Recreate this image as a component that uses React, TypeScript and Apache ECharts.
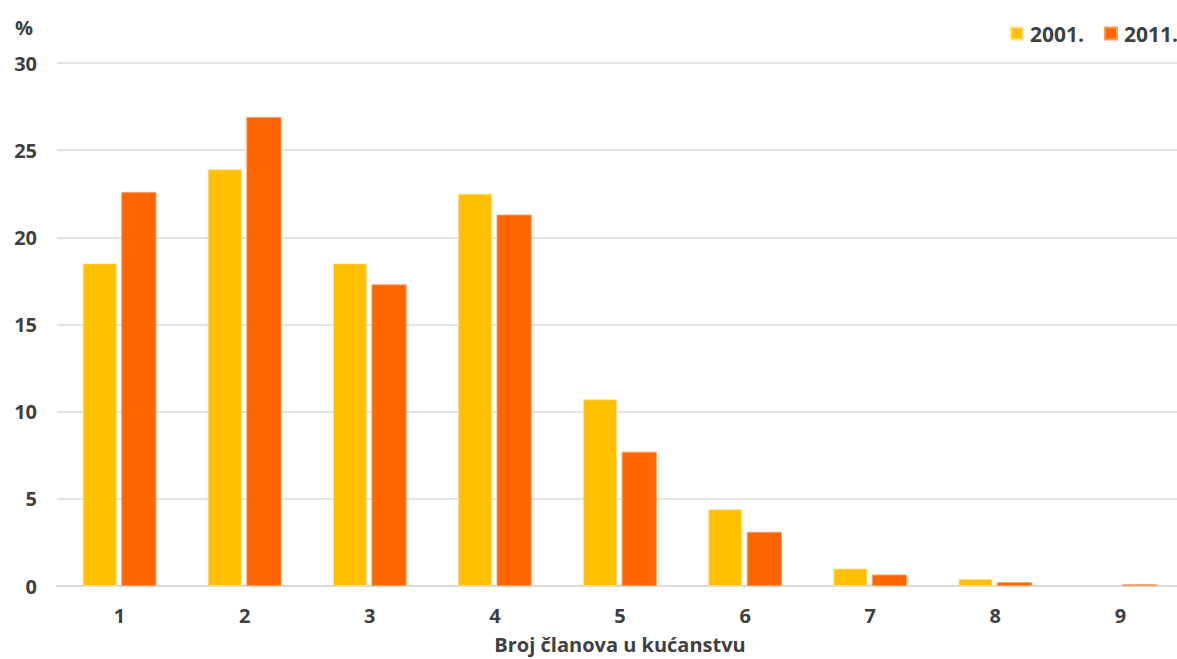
import React, { useEffect, useRef } from "react";
import * as echarts from "echarts";

const categories = ["1", "2", "3", "4", "5", "6", "7", "8", "9"];
const values2001 = [18.5, 23.9, 18.5, 22.5, 10.7, 4.4, 1.0, 0.4, null];
const values2011 = [22.6, 26.9, 17.3, 21.3, 7.7, 3.1, 0.65, 0.22, 0.1];
const yTicks = [0, 5, 10, 15, 20, 25, 30];

export default function App() {
  const ref = useRef<HTMLDivElement>(null);
  useEffect(() => {
    if (!ref.current) return;
    const chart = echarts.init(ref.current, null, { renderer: "svg" });
    const font = "'Open Sans', 'Noto Sans', sans-serif";
    const txt = { fontSize: 20, fontWeight: "bold", color: "#404040", fontFamily: font };
    chart.setOption({
      animation: false,
      textStyle: { fontFamily: font },
      legend: {
        right: 0,
        top: 18,
        itemWidth: 12,
        itemHeight: 12,
        itemGap: 20,
        icon: "rect",
        textStyle: { ...txt, fontSize: 21, padding: [0, 0, 0, 2] },
        data: ["2001.", "2011."],
      },
      grid: { left: 57, right: 0, top: 63, bottom: 72, containLabel: false },
      xAxis: {
        type: "category",
        data: categories,
        name: "Broj članova u kućanstvu",
        nameLocation: "middle",
        nameGap: 48,
        nameTextStyle: { ...txt },
        axisLine: { lineStyle: { color: "#d9d9d9", width: 2 } },
        axisTick: { show: false },
        axisLabel: { ...txt, margin: 19 },
      },
      yAxis: {
        type: "value",
        min: yTicks[0],
        max: yTicks[yTicks.length - 1],
        interval: 5,
        name: "%",
        nameLocation: "end",
        nameGap: 26,
        nameTextStyle: { ...txt, align: "right", padding: [0, 24, 0, 0] },
        axisLine: { show: false },
        axisTick: { show: false },
        axisLabel: { ...txt, margin: 20 },
        splitLine: { lineStyle: { color: "#d9d9d9", width: 1.5 } },
      },
      series: [
        {
          name: "2001.",
          type: "bar",
          data: values2001,
          barWidth: "27%",
          barGap: "14%",
          itemStyle: { color: "#FFC000", borderColor: "#FFE08a", borderWidth: 0.8 },
        },
        {
          name: "2011.",
          type: "bar",
          data: values2011,
          barWidth: "28%",
          barGap: "14%",
          itemStyle: { color: "#FF6600", borderColor: "#FF9a5c", borderWidth: 0.8 },
        },
      ],
    });
    return () => chart.dispose();
  }, []);
  return (
    <div style={{ width: 1177, height: 659, position: "absolute", left: 0, top: 0, overflow: "hidden" }}>
      <div ref={ref} style={{ width: 1183, height: 659 }} />
    </div>
  );
}
